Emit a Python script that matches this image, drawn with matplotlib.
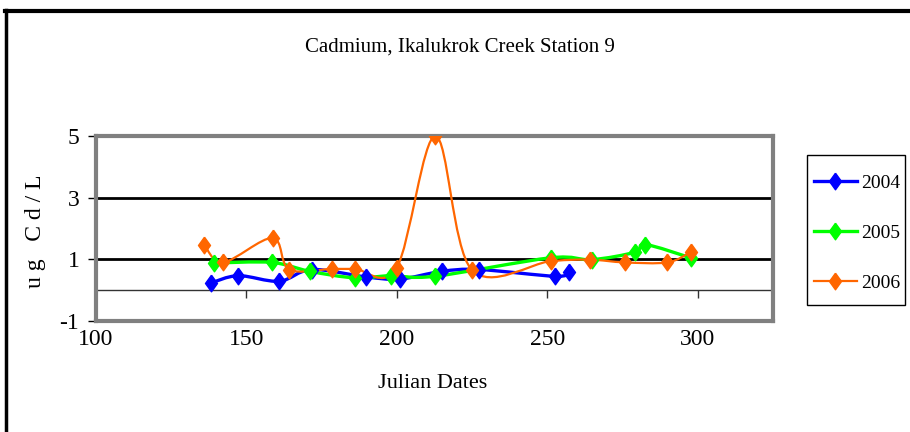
import matplotlib
matplotlib.use("Agg")
import matplotlib.pyplot as plt
import numpy as np
from matplotlib.path import Path
from matplotlib.patches import PathPatch, Rectangle
from matplotlib.lines import Line2D

plt.rcParams['font.family'] = ['Liberation Serif', 'DejaVu Serif']

# ---- data ----
days_2004 = [138.1, 147.3, 160.9, 171.7, 189.7, 201.0, 214.9, 227.3, 252.7, 257.1]
cd_2004 = [0.23, 0.47, 0.29, 0.67, 0.43, 0.36, 0.61, 0.67, 0.45, 0.58]

days_2005 = [139.2, 158.4, 171.1, 186.0, 198.0, 212.6, 251.1, 264.7, 279.1, 282.6, 297.6]
cd_2005 = [0.88, 0.90, 0.61, 0.40, 0.47, 0.45, 1.05, 0.99, 1.23, 1.48, 1.05]

days_2006 = [136.0, 142.3, 158.7, 164.2, 178.3, 186.0, 199.9, 212.8, 224.8, 251.1, 264.1, 275.7, 289.9, 297.6]
cd_2006 = [1.47, 0.90, 1.69, 0.67, 0.69, 0.69, 0.72, 5.0, 0.67, 0.94, 0.99, 0.90, 0.90, 1.23]

series_names = ['2004', '2005', '2006']
series_colors = ['#0000FF', '#00FF00', '#FF6600']
x_ticks = [100, 150, 200, 250, 300]
y_ticks = [-1, 1, 3, 5]

title = 'Cadmium, Ikalukrok Creek Station 9'
xlabel = 'Julian Dates'
ylabel = 'u g   C d / L'

DIAMOND = [(0, 1), (0.72, 0), (0, -1), (-0.72, 0), (0, 1)]


def smooth_path(x, y):
    """Excel-like smoothed line: cubic Bezier segments (Catmull-Rom tangents)."""
    p = np.column_stack([x, y]).astype(float)
    n = len(p)
    verts = [p[0]]
    codes = [Path.MOVETO]
    for i in range(n - 1):
        p0 = p[i - 1] if i > 0 else p[i]
        p1 = p[i]
        p2 = p[i + 1]
        p3 = p[i + 2] if i + 2 < n else p[i + 1]
        c1 = p1 + (p2 - p0) / 6.0
        c2 = p2 - (p3 - p1) / 6.0
        verts += [c1, c2, p2]
        codes += [Path.CURVE4] * 3
    return Path(verts, codes)


fig = plt.figure(figsize=(9.10, 4.32), dpi=100)
fig.patch.set_facecolor('white')

ax = fig.add_axes([96 / 910, 1 - 321 / 432, (773 - 96) / 910, (321 - 136) / 432])
ax.set_xlim(100, 325)
ax.set_ylim(-1, 5)

for s in ax.spines.values():
    s.set_color('#808080')
    s.set_linewidth(3)

ax.set_yticks(y_ticks)
ax.set_yticklabels([str(v) for v in y_ticks], fontsize=17)
ax.tick_params(axis='y', direction='out', length=6, width=1, color='black', pad=6)
ax.yaxis.grid(True, color='black', linewidth=2)

ax.set_xticks(x_ticks)
ax.set_xticklabels([str(v) for v in x_ticks], fontsize=17)
ax.tick_params(axis='x', length=0, pad=6)

# x-axis crossing at y = 0
secax = ax.secondary_xaxis(1 / 6)
secax.set_xticks(x_ticks)
secax.tick_params(axis='x', direction='out', length=6, width=1, color='#333333',
                  labelbottom=False, labeltop=False)
secax.spines['bottom'].set_color('#333333')
secax.spines['bottom'].set_linewidth(1)

all_days = [days_2004, days_2005, days_2006]
all_cd = [cd_2004, cd_2005, cd_2006]
lws = [2.4, 2.4, 1.6]
handles = []
for d, c, name, col, lw in zip(all_days, all_cd, series_names, series_colors, lws):
    patch = PathPatch(smooth_path(d, c), facecolor='none', edgecolor=col, linewidth=lw, zorder=3)
    ax.add_patch(patch)
    ax.plot(d, c, linestyle='none', marker=DIAMOND, markersize=12, color=col, zorder=4)
    handles.append(Line2D([], [], color=col, linewidth=lw, marker=DIAMOND, markersize=12, label=name))

fig.text(460 / 910, 1 - 47 / 432, title, fontsize=15, ha='center', va='center')
fig.text(433 / 910, 1 - 383 / 432, xlabel, fontsize=16, ha='center', va='center')
fig.text(36 / 910, 1 - 231 / 432, ylabel, fontsize=17, ha='center', va='center', rotation=90)

# legend frame and entries
fig.add_artist(Rectangle((807 / 910, 1 - 305 / 432), 98 / 910, 150 / 432, transform=fig.transFigure,
                         facecolor='white', edgecolor='black', linewidth=1, zorder=4))
leg = fig.legend(handles=handles, loc='center', bbox_to_anchor=(857 / 910, 1 - 233 / 432),
                 bbox_transform=fig.transFigure, fontsize=14, frameon=False,
                 borderaxespad=0, labelspacing=1.65, handlelength=2.2,
                 handletextpad=0.2, borderpad=0.2)
leg.set_zorder(5)

# outer chart border (top and left visible)
fig.add_artist(Line2D([5 / 910, 1.0], [1 - 11 / 432, 1 - 11 / 432], transform=fig.transFigure,
                      color='black', linewidth=3))
fig.add_artist(Line2D([5.5 / 910, 5.5 / 910], [0, 1 - 9.5 / 432], transform=fig.transFigure,
                      color='black', linewidth=2.5))

fig.savefig('out.png', dpi=100, facecolor='white')
